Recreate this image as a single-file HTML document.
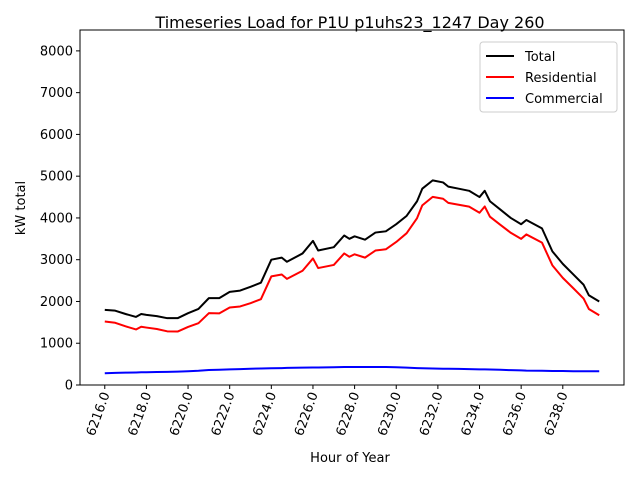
<!DOCTYPE html>
<html><head><meta charset="utf-8"><style>
body{margin:0;background:#fff}
svg text{font-family:"DejaVu Sans","Liberation Sans",sans-serif;fill:#000}
</style></head><body>
<svg id="chart" width="640" height="480" viewBox="0 0 640 480" xmlns="http://www.w3.org/2000/svg">
<rect x="0" y="0" width="640" height="480" fill="#fff"/>
<text x="350" y="28" font-size="16" text-anchor="middle">Timeseries Load for P1U p1uhs23_1247  Day 260</text>
<g id="plot"></g>
<rect x="80" y="30" width="544" height="355" fill="none" stroke="#000" stroke-width="1"/>
<text x="350" y="462" font-size="13" text-anchor="middle">Hour of Year</text>
<text x="25" y="208" font-size="13" text-anchor="middle" transform="rotate(-90 25 208)">kW total</text>
<g>
<rect x="480" y="42" width="137" height="70" rx="3" fill="#fff" stroke="#ccc"/>
<line x1="486" y1="56" x2="514" y2="56" stroke="#000" stroke-width="2"/>
<text x="525" y="61" font-size="13">Total</text>
<line x1="486" y1="77" x2="514" y2="77" stroke="#f00" stroke-width="2"/>
<text x="525" y="82" font-size="13">Residential</text>
<line x1="486" y1="98" x2="514" y2="98" stroke="#00f" stroke-width="2"/>
<text x="525" y="103" font-size="13">Commercial</text>
</g>
</svg>
<script>
const hours=[6216,6216.5,6217,6217.5,6217.75,6218,6218.5,6219,6219.5,6220,6220.5,6221,6221.5,6222,6222.5,6223,6223.5,6224,6224.5,6224.75,6225.5,6226,6226.25,6227,6227.5,6227.75,6228,6228.5,6229,6229.5,6230,6230.5,6231,6231.25,6231.75,6232.25,6232.5,6233,6233.5,6234,6234.25,6234.5,6235,6235.5,6236,6236.25,6237,6237.5,6238,6238.5,6239,6239.25,6239.75];
const total=[1800,1780,1700,1630,1700,1680,1650,1600,1600,1720,1820,2080,2080,2230,2260,2350,2450,3000,3050,2950,3150,3450,3220,3300,3580,3500,3560,3480,3650,3680,3850,4050,4400,4700,4900,4850,4750,4700,4650,4500,4650,4400,4200,4000,3850,3950,3750,3200,2900,2650,2400,2150,2000];
const residential=[1520,1490,1405,1330,1395,1375,1340,1285,1280,1390,1480,1720,1715,1855,1880,1960,2055,2600,2645,2540,2735,3030,2800,2875,3150,3070,3130,3050,3220,3250,3425,3635,3995,4300,4505,4460,4360,4315,4270,4125,4275,4030,3835,3645,3500,3605,3410,2865,2565,2320,2070,1820,1670];
const commercial=[280,290,295,300,305,305,310,315,320,330,340,360,365,375,380,390,395,400,405,410,415,420,420,425,430,430,430,430,430,430,425,415,405,400,395,390,390,385,380,375,375,370,365,355,350,345,340,335,335,330,330,330,330];
const xTicks=[6216,6218,6220,6222,6224,6226,6228,6230,6232,6234,6236,6238];
const yTicks=[0,1000,2000,3000,4000,5000,6000,7000,8000];
const X0=80,X1=624,Y0=385,Y1=30,XMIN=6214.81,XMAX=6240.94,YMIN=0,YMAX=8500;
const sx=h=>X0+(h-XMIN)/(XMAX-XMIN)*(X1-X0);
const sy=v=>Y0-(v-YMIN)/(YMAX-YMIN)*(Y0-Y1);
const NS="http://www.w3.org/2000/svg";
const g=document.getElementById('plot');
function mk(t,a){const e=document.createElementNS(NS,t);for(const k in a)e.setAttribute(k,a[k]);g.appendChild(e);return e;}
yTicks.forEach(v=>{
 const l=mk('line',{x1:X0-4,x2:X0,y1:sy(v),y2:sy(v),stroke:'#000'});
 
 
 const t=mk('text',{x:X0-7,y:sy(v)+4.5,'font-size':13,'text-anchor':'end'});
 t.textContent=v;
 
 
});
xTicks.forEach(h=>{
 const l=mk('line',{x1:sx(h),x2:sx(h),y1:Y0,y2:Y0+4,stroke:'#000'});
 
 
 const x=sx(h)+5,y=Y0+9;
 const t=mk('text',{x:x,y:y,'font-size':13,'text-anchor':'end',transform:`rotate(-70 ${x} ${y})`});
 t.textContent=h.toFixed(1);
 
 
});
function line(vals,color,name){
 const p=mk('polyline',{points:vals.map((v,i)=>sx(hours[i])+','+sy(v)).join(' '),fill:'none',stroke:color,'stroke-width':2,'stroke-linejoin':'round'});
 
 
}
line(total,'#000','total-line');
line(residential,'#f00','residential-line');
line(commercial,'#00f','commercial-line');
</script>
</body></html>
